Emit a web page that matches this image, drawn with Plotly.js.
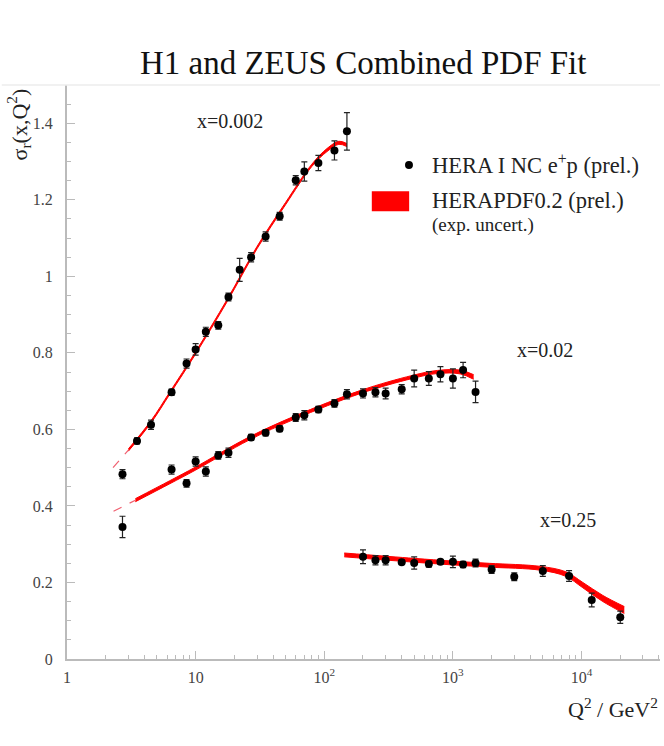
<!DOCTYPE html>
<html><head><meta charset="utf-8">
<script src="https://cdn.plot.ly/plotly-3.0.1.min.js"></script>
<style>html,body{margin:0;padding:0;background:#fff}</style>
</head><body><div id="plot" style="width:664px;height:746px"></div>
<script>
// ---- data points (Q^2, sigma_r, error) ----
var q2_x002 = [2.7, 3.5, 4.5, 6.5, 8.5, 10, 12, 15, 18, 22, 27, 35, 45, 60, 70, 90, 120, 150];
var sig_x002 = [0.483, 0.570, 0.612, 0.697, 0.772, 0.809, 0.855, 0.872, 0.946, 1.017, 1.050, 1.104, 1.157, 1.251, 1.274, 1.296, 1.329, 1.379];
var err_x002 = [0.012, 0.008, 0.012, 0.008, 0.012, 0.015, 0.012, 0.010, 0.010, 0.030, 0.012, 0.012, 0.010, 0.012, 0.025, 0.020, 0.025, 0.049];

var q2_x02 = [2.7, 6.5, 8.5, 10, 12, 15, 18, 27, 35, 45, 60, 70, 90, 120, 150, 200, 250, 300, 400, 500, 650, 800, 1000, 1200, 1500];
var sig_x02 = [0.345, 0.495, 0.459, 0.516, 0.490, 0.532, 0.539, 0.579, 0.591, 0.602, 0.631, 0.637, 0.652, 0.668, 0.692, 0.694, 0.697, 0.694, 0.705, 0.733, 0.733, 0.744, 0.733, 0.755, 0.698];
var err_x02 = [0.028, 0.012, 0.010, 0.012, 0.012, 0.010, 0.012, 0.008, 0.008, 0.008, 0.010, 0.012, 0.008, 0.010, 0.012, 0.012, 0.012, 0.014, 0.012, 0.022, 0.018, 0.020, 0.025, 0.020, 0.028];

var q2_x25 = [200, 250, 300, 400, 500, 650, 800, 1000, 1200, 1500, 2000, 3000, 5000, 8000, 12000, 20000];
var sig_x25 = [0.267, 0.258, 0.258, 0.253, 0.251, 0.248, 0.254, 0.254, 0.247, 0.251, 0.234, 0.215, 0.230, 0.217, 0.154, 0.109];
var err_x25 = [0.018, 0.012, 0.012, 0.006, 0.016, 0.008, 0.006, 0.015, 0.008, 0.010, 0.010, 0.010, 0.014, 0.014, 0.018, 0.016];

// ---- HERAPDF0.2 fit curves (centre, half-width of band) ----
var fitQ2_x002 = [3.0, 4.5, 6.3, 10, 17.6, 30, 50, 80, 105, 130, 150];
var fit_x002 = [0.546, 0.620, 0.695, 0.800, 0.937, 1.075, 1.190, 1.290, 1.330, 1.349, 1.343];
var fitErr_x002 = [0.003, 0.003, 0.003, 0.003, 0.003, 0.003, 0.003, 0.003, 0.004, 0.004, 0.004];
var extQ2_x002 = [2.28, 3.0];
var ext_x002 = [0.500, 0.546];

var fitQ2_x02 = [3.4, 6.3, 9.9, 26, 59, 192, 483, 755, 1140, 1450];
var fit_x02 = [0.415, 0.462, 0.497, 0.576, 0.631, 0.698, 0.737, 0.750, 0.750, 0.737];
var fitErr_x02 = [0.004, 0.004, 0.004, 0.004, 0.004, 0.004, 0.004, 0.004, 0.005, 0.006];
var extQ2_x02 = [2.3, 3.4];
var ext_x02 = [0.386, 0.415];

var fitQ2_x25 = [143, 500, 980, 1924, 4800, 7540, 10240, 14660, 21500];
var fit_x25 = [0.272, 0.258, 0.251, 0.245, 0.237, 0.222, 0.193, 0.158, 0.128];
var fitErr_x25 = [0.005, 0.005, 0.005, 0.005, 0.005, 0.006, 0.007, 0.008, 0.009];

// ---- axis ticks ----
var xTickVals = [1, 10, 100, 1000, 10000];
var xTickText = ['1', '10', '10<sup>2</sup>', '10<sup>3</sup>', '10<sup>4</sup>'];
var yTickVals = [0, 0.2, 0.4, 0.6, 0.8, 1.0, 1.2, 1.4];
var yTickText = ['0', '0.2', '0.4', '0.6', '0.8', '1', '1.2', '1.4'];

var RED = '#ff0000';
var SERIF = 'Liberation Serif, Times New Roman, serif';

function band(q, c, e) {
  var lo = c.map(function (v, i) { return v - e[i]; });
  var hi = c.map(function (v, i) { return v + e[i]; });
  return [
    {x: q, y: lo, mode: 'lines', line: {color: RED, width: 1, shape: 'spline'}, hoverinfo: 'skip', showlegend: false},
    {x: q, y: hi, mode: 'lines', line: {color: RED, width: 1, shape: 'spline'}, fill: 'tonexty', fillcolor: RED, hoverinfo: 'skip', showlegend: false}
  ];
}
function ext(q, v) {
  return {x: q, y: v, mode: 'lines', line: {color: '#f06070', width: 1.2, dash: 'dash'}, hoverinfo: 'skip', showlegend: false};
}
function pts(q, v, e) {
  return {x: q, y: v, mode: 'markers', type: 'scatter',
    marker: {color: '#000', size: 8},
    error_y: {type: 'data', array: e, visible: true, color: '#222', thickness: 1.2, width: 3},
    showlegend: false};
}

var traces = [].concat(
  band(fitQ2_x002, fit_x002, fitErr_x002),
  band(fitQ2_x02, fit_x02, fitErr_x02),
  band(fitQ2_x25, fit_x25, fitErr_x25),
  [ext(extQ2_x002, ext_x002), ext(extQ2_x02, ext_x02)],
  [pts(q2_x002, sig_x002, err_x002), pts(q2_x02, sig_x02, err_x02), pts(q2_x25, sig_x25, err_x25)]
);

var layout = {
  width: 664, height: 746,
  margin: {l: 67, r: 4, t: 85, b: 87},
  paper_bgcolor: '#fff', plot_bgcolor: '#fff',
  showlegend: false,
  font: {family: SERIF, color: '#333'},
  title: {text: 'H1 and ZEUS Combined PDF Fit', font: {family: SERIF, size: 33, color: '#111'},
    x: 0.547, xanchor: 'center', xref: 'container', y: 0.916, yanchor: 'middle', yref: 'container'},
  xaxis: {type: 'log', range: [0, 4.61], tickmode: 'array', tickvals: xTickVals, ticktext: xTickText,
    ticks: 'inside', ticklen: 8, tickcolor: '#bbb', tickwidth: 1,
    minor: {dtick: 'D1', ticks: 'inside', ticklen: 4, tickcolor: '#bbb', showgrid: false},
    showline: true, linecolor: '#bbb', linewidth: 2, showgrid: false, zeroline: false,
    tickfont: {family: SERIF, size: 16, color: '#444'}, ticklabelstandoff: 3},
  yaxis: {range: [0, 1.5], tickmode: 'array', tickvals: yTickVals, ticktext: yTickText,
    ticks: 'inside', ticklen: 8, tickcolor: '#bbb', tickwidth: 1,
    minor: {tickmode: 'linear', tick0: 0, dtick: 0.05, ticks: 'inside', ticklen: 4, tickcolor: '#bbb', showgrid: false},
    showline: true, linecolor: '#bbb', linewidth: 2, showgrid: false, zeroline: false,
    tickfont: {family: SERIF, size: 16, color: '#444'}, ticklabelstandoff: 9},
  shapes: [
    {type: 'line', xref: 'paper', yref: 'paper', x0: -0.11, x1: 1.0, y0: 1.0, y1: 1.0,
      line: {color: '#ececec', width: 1.5}},
    {type: 'circle', xref: 'paper', yref: 'paper', x0: 0.5700, x1: 0.5834, y0: 0.8536, y1: 0.8676,
      fillcolor: '#000', line: {color: '#000', width: 0}},
    {type: 'rect', xref: 'paper', yref: 'paper', x0: 0.514, x1: 0.577, y0: 0.780, y1: 0.815,
      fillcolor: RED, line: {color: RED, width: 0}}
  ],
  annotations: [
    {text: 'x=0.002', x: Math.log10(18.4), y: 1.407, xref: 'x', yref: 'y', showarrow: false,
      font: {family: SERIF, size: 20, color: '#222'}},
    {text: 'x=0.02', x: Math.log10(5190), y: 0.807, xref: 'x', yref: 'y', showarrow: false,
      font: {family: SERIF, size: 20, color: '#222'}},
    {text: 'x=0.25', x: Math.log10(7800), y: 0.363, xref: 'x', yref: 'y', showarrow: false,
      font: {family: SERIF, size: 20, color: '#222'}},
    {text: 'HERA I NC e<sup>+</sup>p (prel.)', x: 0.612, y: 0.862, xref: 'paper', yref: 'paper',
      xanchor: 'left', yanchor: 'middle', showarrow: false, font: {family: SERIF, size: 22.5, color: '#222'}},
    {text: 'HERAPDF0.2 (prel.)', x: 0.612, y: 0.799, xref: 'paper', yref: 'paper',
      xanchor: 'left', yanchor: 'middle', showarrow: false, font: {family: SERIF, size: 22.5, color: '#222'}},
    {text: '(exp. uncert.)', x: 0.612, y: 0.756, xref: 'paper', yref: 'paper',
      xanchor: 'left', yanchor: 'middle', showarrow: false, font: {family: SERIF, size: 19, color: '#222'}},
    {text: '\u03c3<sub>r</sub>(x,Q<sup>2</sup>)', x: -0.082, y: 0.932, xref: 'paper', yref: 'paper',
      textangle: -90, xanchor: 'center', yanchor: 'middle', showarrow: false, font: {family: SERIF, size: 22, color: '#222'}},
    {text: 'Q<sup>2</sup> / GeV<sup>2</sup>', x: 1.0, y: -0.085, xref: 'paper', yref: 'paper',
      xanchor: 'right', yanchor: 'middle', showarrow: false, font: {family: SERIF, size: 22, color: '#222'}}
  ]
};

Plotly.newPlot('plot', traces, layout, {displayModeBar: false, staticPlot: true});
</script>
</body></html>
